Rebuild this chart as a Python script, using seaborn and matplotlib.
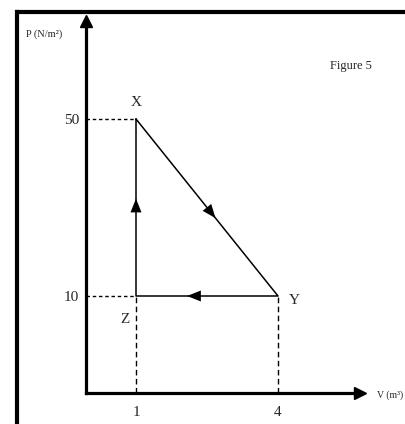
import matplotlib
matplotlib.use("Agg")
import matplotlib.pyplot as plt
from matplotlib.lines import Line2D
import seaborn as sns

# P-V cycle data (X -> Y -> Z -> X)
point_names = ["X", "Y", "Z"]
volume = [1, 4, 1]          # m^3
pressure = [50, 10, 10]     # N/m^2
x_ticks = [1, 4]
y_ticks = [10, 50]

sns.set_style("white")
plt.rcParams["font.family"] = ["Liberation Serif", "DejaVu Serif"]

W, H = 406, 424
fig = plt.figure(figsize=(W / 100, H / 100), dpi=100)

# axes placed so spines sit where the sketch draws them
ax = fig.add_axes([86 / W, 31 / H, (360 - 86) / W, (393 - 21) / H])
px_per_v = (278 - 136) / 3.0
px_per_p = (296 - 119) / 40.0
ax.set_xlim(1 - (136 - 86) / px_per_v, 4 + (360 - 278) / px_per_v)
ax.set_ylim(10 - (393 - 296) / px_per_p, 50 + (119 - 21) / px_per_p)

for side in ["top", "right"]:
    ax.spines[side].set_visible(False)
for side in ["left", "bottom"]:
    ax.spines[side].set_linewidth(2.3)
    ax.spines[side].set_color("black")
ax.plot(1, 0, ">", color="black", ms=8, transform=ax.transAxes, clip_on=False)
ax.plot(0, 1, "^", color="black", ms=8, transform=ax.transAxes, clip_on=False)

ax.set_xticks(x_ticks)
ax.set_yticks(y_ticks)
ax.tick_params(axis="x", length=0, pad=9, labelsize=11)
ax.tick_params(axis="y", length=0, pad=5, labelsize=11)

# closed cycle
cyc_v = volume + [volume[0]]
cyc_p = pressure + [pressure[0]]
sns.lineplot(x=cyc_v, y=cyc_p, sort=False, estimator=None, color="black",
             linewidth=1.1, ax=ax)

# dashed guide lines
x0, _ = ax.get_xlim()
y0, _ = ax.get_ylim()
for v, p in [(volume[0], pressure[0]), (volume[2], pressure[2])]:
    ax.plot([x0, v], [p, p], color="black", lw=1, ls=(0, (2.5, 2)))
for v, p in [(volume[1], pressure[1]), (volume[2], pressure[2])]:
    ax.plot([v, v], [y0, p], color="black", lw=1, ls=(0, (4, 2.5)))

# direction arrows along each leg (fraction of the leg where the head sits)
arrow_pos = [0.56, 0.64, 0.55]
for i, t in enumerate(arrow_pos):
    va, pa = volume[i], pressure[i]
    vb, pb = cyc_v[i + 1], cyc_p[i + 1]
    tip = (va + (vb - va) * t, pa + (pb - pa) * t)
    tail = (va + (vb - va) * (t - 0.05), pa + (pb - pa) * (t - 0.05))
    ax.annotate("", xy=tip, xytext=tail,
                arrowprops=dict(arrowstyle="-|>,head_length=0.55,head_width=0.22",
                                color="black", lw=0,
                                mutation_scale=18, shrinkA=0, shrinkB=0))

# point labels
offsets = [(0, 12), (12, -3), (-8, -17)]
for name, v, p, off in zip(point_names, volume, pressure, offsets):
    ax.annotate(name, (v, p), xytext=off, textcoords="offset points",
                ha="center", va="center", fontsize=11)

fig.text(26 / W, 1 - 34 / H, "P (N/m²)", fontsize=7.5, va="center", ha="left")
fig.text(377 / W, 1 - 395 / H, "V (m³)", fontsize=7, va="center", ha="left")
fig.text(330 / W, 1 - 66 / H, "Figure 5", fontsize=9, va="center", ha="left")

# thick frame on top and left
fig.add_artist(Line2D([15 / W, 1], [1 - 12 / H, 1 - 12 / H], color="black",
                      lw=3, solid_capstyle="butt"))
fig.add_artist(Line2D([17 / W, 17 / W], [0, 1 - 12 / H], color="black",
                      lw=3, solid_capstyle="projecting"))

fig.savefig("out.png", dpi=100)
